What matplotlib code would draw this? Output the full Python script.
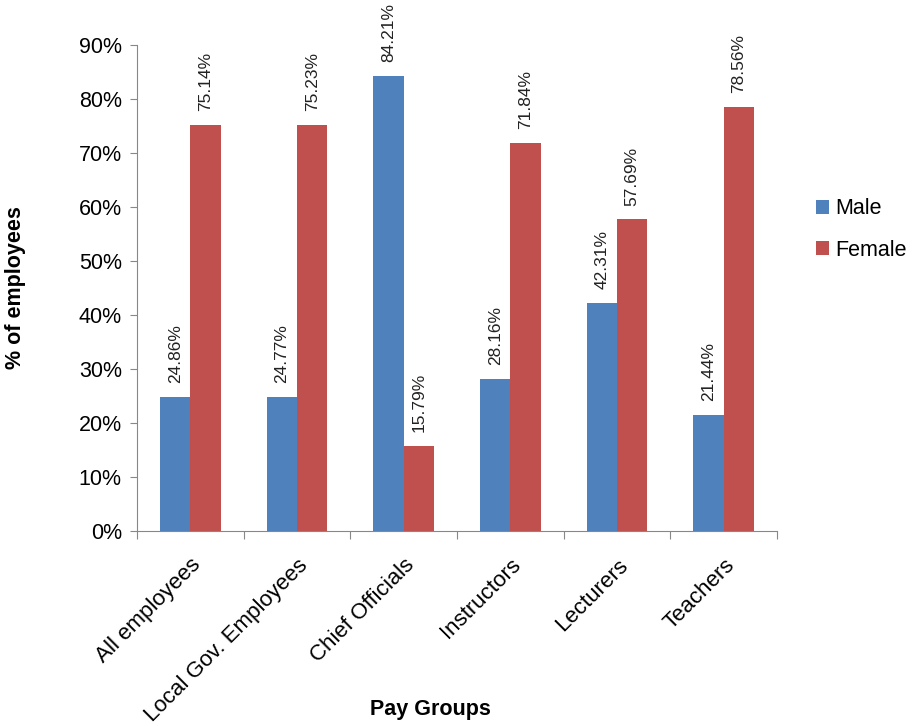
import matplotlib
matplotlib.use("Agg")
import matplotlib.pyplot as plt
import numpy as np

categories = ["All employees", "Local Gov. Employees", "Chief Officials",
              "Instructors", "Lecturers", "Teachers"]
male = [24.86, 24.77, 84.21, 28.16, 42.31, 21.44]
female = [75.14, 75.23, 15.79, 71.84, 57.69, 78.56]
yticks = [0, 10, 20, 30, 40, 50, 60, 70, 80, 90]

plt.rcParams['font.family'] = ['Liberation Sans', 'DejaVu Sans']

fig = plt.figure(figsize=(9.16, 7.26), dpi=100)
ax = fig.add_axes([0.1496, 0.2686, 0.6987, 0.6694])

x = np.arange(len(categories))
w = 0.285
blue = "#4F81BD"
red = "#C0504D"
b1 = ax.bar(x - w / 2, male, w, color=blue, label="Male")
b2 = ax.bar(x + w / 2, female, w, color=red, label="Female")

for bars, vals in ((b1, male), (b2, female)):
    for r, v in zip(bars, vals):
        ax.annotate(f"{v:.2f}%", (r.get_x() + r.get_width() / 2, v),
                    xytext=(0, 10), textcoords="offset points",
                    rotation=90, ha="center", va="bottom", fontsize=12.5,
                    color="#222222")

ax.set_xlim(-0.5, len(categories) - 0.5)
ax.set_ylim(0, 90)
ax.set_yticks(yticks)
ax.set_yticklabels([f"{t}%" for t in yticks], fontsize=15.5)
ax.set_xticks(np.arange(len(categories) + 1) - 0.5)
ax.set_xticklabels([])
ax.set_xticks(x, minor=True)
ax.set_xticklabels(categories, minor=True, rotation=45, ha="right",
                   rotation_mode="anchor", fontsize=16)
ax.tick_params(axis="x", which="minor", length=0, pad=17)
ax.tick_params(axis="x", which="major", length=6, color="#888888", direction="out")
ax.tick_params(axis="y", length=5, color="#888888", direction="out", pad=6)

for s in ("top", "right"):
    ax.spines[s].set_visible(False)
for s in ("left", "bottom"):
    ax.spines[s].set_color("#888888")

ax.set_ylabel("% of employees", fontsize=15.5, fontweight="bold")
ax.yaxis.set_label_coords(-0.173, 0.5)
ax.set_xlabel("Pay Groups", fontsize=15.5, fontweight="bold")
ax.xaxis.set_label_coords(0.458, -0.346)

ax.legend(loc="center left", bbox_to_anchor=(1.03, 0.62), frameon=False,
          fontsize=15.5, handlelength=0.6, handleheight=0.6, labelspacing=0.95,
          handletextpad=0.3)

fig.savefig("out.png", dpi=100)
